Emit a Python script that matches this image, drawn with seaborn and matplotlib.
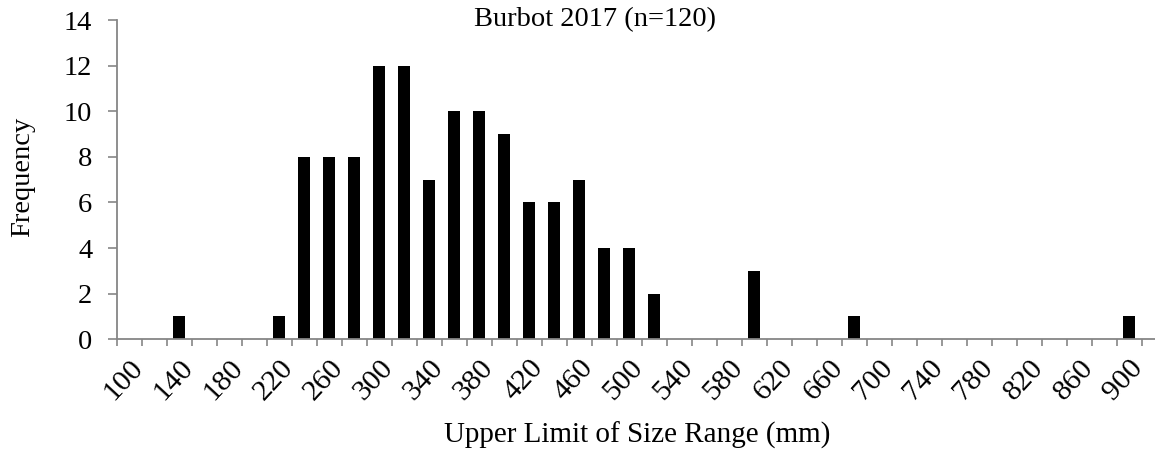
import matplotlib
matplotlib.use("Agg")
import matplotlib.pyplot as plt
import matplotlib.transforms as mtransforms
import seaborn as sns
import pandas as pd
import numpy as np

# ---- data ----
categories = [str(v) for v in range(100, 920, 20)]  # 100 .. 900
counts = [0, 0, 1, 0, 0, 0, 1, 8, 8, 8, 12, 12, 7, 10, 10, 9, 6, 6, 7, 4, 4, 2,
          0, 0, 0, 3, 0, 0, 0, 1,
          0, 0, 0, 0, 0, 0, 0, 0, 0, 0,
          1]
title_text = "Burbot 2017 (n=120)"
x_label = "Upper Limit of Size Range (mm)"
y_label = "Frequency"
y_ticks = [0, 2, 4, 6, 8, 10, 12, 14]

df = pd.DataFrame({"category": categories, "count": counts})

sns.set_theme(style="white")
plt.rcParams["font.family"] = ["Liberation Serif", "DejaVu Serif"]

W, H = 1155, 455
fig = plt.figure(figsize=(W / 100, H / 100), dpi=100)
left_px, right_px, top_px, bottom_px = 116.7, 1155, 20, 339.3
ax = fig.add_axes([left_px / W, 1 - bottom_px / H,
                   (right_px - left_px) / W, (bottom_px - top_px) / H])

sns.barplot(data=df, x="category", y="count", order=categories,
            color="black", width=0.47, linewidth=0, saturation=1, ax=ax)

fs = 20.5
axis_col = "#868686"
ax.set_xlim(-0.5, (right_px - left_px) / 25 - 0.5)
ax.set_ylim(0, 14)
ax.set_yticks(y_ticks)
ax.set_yticklabels([str(v) for v in y_ticks], fontsize=fs, color="black")

ax.set_xticks(range(0, len(categories), 2))
ax.set_xticklabels(categories[::2], fontsize=21.5, rotation=47, ha="right",
                   va="top", rotation_mode="anchor", color="black")
offset = mtransforms.ScaledTranslation(-3 / 100, 0, fig.dpi_scale_trans)
for lbl in ax.get_xticklabels():
    lbl.set_transform(lbl.get_transform() + offset)
ax.set_xticks(np.arange(-0.5, len(categories), 1), minor=True)
ax.tick_params(axis="x", which="major", length=0, pad=11)
ax.tick_params(axis="x", which="minor", length=5, width=1.2, color=axis_col,
               direction="out", bottom=True)
ax.tick_params(axis="y", which="major", length=6.5, width=1.2, color=axis_col,
               direction="out", left=True, pad=11)

for s in ["top", "right"]:
    ax.spines[s].set_visible(False)
for s in ["left", "bottom"]:
    ax.spines[s].set_color(axis_col)
    ax.spines[s].set_linewidth(1.3)
ax.grid(False)
ax.set_xlabel("")
ax.set_ylabel("")

fig.text(595 / W, 1 - 20 / H, title_text, ha="center", va="center",
         fontsize=fs, color="black")
fig.text(637 / W, 1 - 435 / H, x_label, ha="center", va="center",
         fontsize=21, color="black")
fig.text(23 / W, 1 - 177 / H, y_label, ha="center", va="center",
         rotation=90, fontsize=fs, color="black")

fig.savefig("out.png", dpi=100)
